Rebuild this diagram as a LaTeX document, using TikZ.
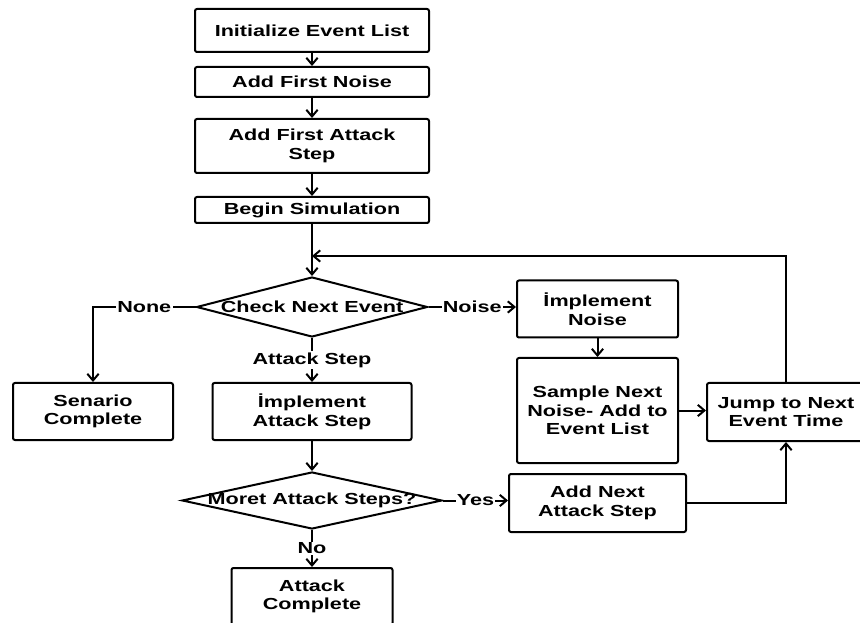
\documentclass[tikz,border=0pt]{standalone}
\usepackage{fontspec}
\newfontfamily\flowfont{Liberation Sans}[FakeStretch=1.35]
\usetikzlibrary{shapes.geometric, arrows.meta}
\tikzset{stepbox/.style={draw, rounded corners=1.5pt, align=center, inner sep=2pt},
  decision/.style={draw, diamond, inner sep=0pt},
  tag/.style={fill=white, inner sep=1pt}}

\begin{document}
\begin{tikzpicture}[x=0.75pt, y=-0.75pt, line width=1.5pt,
    >={Straight Barb[length=5pt,width=8.5pt]},
    font=\flowfont\bfseries\fontsize{12}{14}\selectfont]
    \useasboundingbox (0,0) rectangle (860,623);
    \clip (0,0) rectangle (860,623);

    % main column
    \node[stepbox, minimum width=175.5pt, minimum height=32.25pt] (init) at (312,30.5) {Initialize Event List};
    \node[stepbox, minimum width=175.5pt, minimum height=22.5pt] (noise1) at (312,82) {Add First Noise};
    \node[stepbox, minimum width=175.5pt, minimum height=40.5pt] (attack1) at (312,146) {Add First Attack\\Step};
    \node[stepbox, minimum width=175.5pt, minimum height=19.5pt] (begin) at (312,210) {Begin Simulation};
    \node[decision, minimum width=173.25pt, minimum height=45pt, label=center:{Check Next Event}] (check) at (312,307) {};
    \node[stepbox, minimum width=120pt, minimum height=42.75pt] (senario) at (93,411.5) {Senario\\Complete};
    \node[stepbox, minimum width=149.25pt, minimum height=42.75pt] (impattack) at (312,411.5) {İmplement\\Attack Step};
    \node[decision, minimum width=195pt, minimum height=42.75pt, label=center:{Moret Attack Steps?}] (more) at (312,500.5) {};
    \node[stepbox, minimum width=120.75pt, minimum height=42.75pt] (complete) at (312,596.5) {Attack\\Complete};

    % right side
    \node[stepbox, minimum width=120.75pt, minimum height=42.75pt] (impnoise) at (597.5,309) {İmplement\\Noise};
    \node[stepbox, minimum width=120.75pt, minimum height=78.75pt] (sample) at (597.5,410.5) {Sample Next\\Noise- Add to\\Event List};
    \node[stepbox, minimum width=132.75pt, minimum height=43.5pt] (addnext) at (597.5,503) {Add Next\\Attack Step};
    \node[stepbox, minimum width=118.5pt, minimum height=43.5pt] (jump) at (786,412) {Jump to Next\\Event Time};
    \coordinate (back) at (312,256);

    \draw[->] (init) -- (noise1);
    \draw[->] (noise1) -- (attack1);
    \draw[->] (attack1) -- (begin);
    \draw[->] (begin) -- (check);
    \draw[->] (jump.north) |- (back);

    \draw[->] (check.west) -| node[tag, pos=0.25] {None} (senario.north);
    \draw[->] (check.east) -- node[tag] {Noise} (check.east -| impnoise.west);
    \draw[->] (check.south) -- node[tag] {Attack Step} (impattack.north);

    \draw[->] (impnoise) -- (sample);
    \draw[->] (sample.east) -- (sample.east -| jump.west);

    \draw[->] (impattack) -- (more);
    \draw[->] (more.east) -- node[tag] {Yes} (more.east -| addnext.west);
    \draw[->] (more.south) -- node[tag] {No} (complete.north);
    \draw[->] (addnext.east) -| (jump.south);
\end{tikzpicture}
\end{document}
